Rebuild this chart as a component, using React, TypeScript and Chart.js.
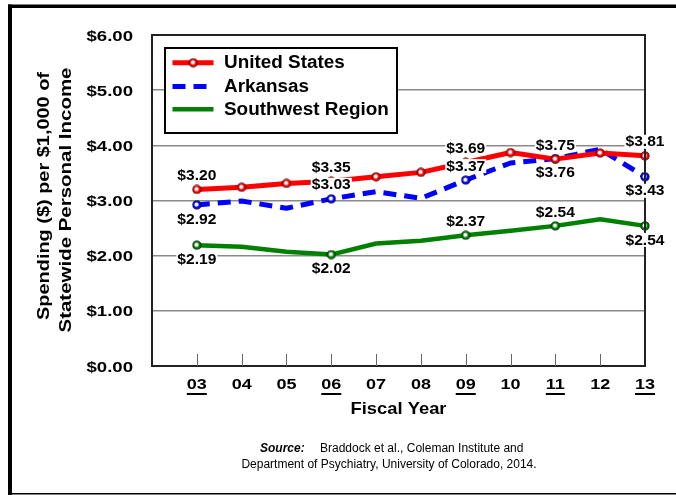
import React, { useEffect, useRef } from 'react';
import { Chart, registerables } from 'chart.js';

Chart.register(...registerables);

// ---------- data ----------
const years = [3, 4, 5, 6, 7, 8, 9, 10, 11, 12, 13];
const yearLabels = ['03', '04', '05', '06', '07', '08', '09', '10', '11', '12', '13'];
const underlinedYears = [3, 6, 9, 11, 13];
const yTickValues = [0, 1, 2, 3, 4, 5, 6];

const usValues = [3.2, 3.24, 3.31, 3.35, 3.43, 3.51, 3.69, 3.87, 3.75, 3.86, 3.81];
const arValues = [2.92, 2.99, 2.86, 3.03, 3.16, 3.04, 3.37, 3.68, 3.76, 3.93, 3.43];
const swValues = [2.19, 2.16, 2.07, 2.02, 2.22, 2.27, 2.37, 2.45, 2.54, 2.66, 2.54];

const usLabelPos = ['above', '', '', 'above', '', '', 'above', '', 'above', '', 'above'];
const arLabelPos = ['below', '', '', 'above', '', '', 'above', '', 'below', '', 'below'];
const swLabelPos = ['below', '', '', 'below', '', '', 'above', '', 'above', '', 'below'];

const usMarkers = [1, 1, 1, 1, 1, 1, 1, 1, 1, 1, 1];
const arMarkers = [1, 0, 0, 1, 0, 0, 1, 0, 1, 0, 1];
const swMarkers = [1, 0, 0, 1, 0, 0, 1, 0, 1, 0, 1];

const seriesNames = ['United States', 'Arkansas', 'Southwest Region'];

const yTitleLines = ['Spending ($) per $1,000 of', 'Statewide Personal Income'];
const xTitle = 'Fiscal Year';
const sourceLabel = 'Source:';
const sourceLine1 = 'Braddock et al., Coleman Institute and';
const sourceLine2 = 'Department of Psychiatry, University of Colorado, 2014.';

// ---------- styles ----------
const FONT = "'Liberation Sans', Arial, Helvetica, sans-serif";
const RED = '#ff0000';
const BLUE = '#0000ff';
const GREEN = '#008000';
const DASH = [13, 8];

function makeMarker(color: string, dark: string): HTMLCanvasElement {
  const c = document.createElement('canvas');
  c.width = 10;
  c.height = 10;
  const g = c.getContext('2d')!;
  const grad = g.createRadialGradient(4.3, 4.3, 0, 5, 5, 4.5);
  grad.addColorStop(0, '#ffffff');
  grad.addColorStop(0.3, '#ffffff');
  grad.addColorStop(0.6, color);
  grad.addColorStop(1, color);
  g.beginPath();
  g.arc(5, 5, 4.1, 0, Math.PI * 2);
  g.fillStyle = grad;
  g.fill();
  g.lineWidth = 0.9;
  g.strokeStyle = dark;
  g.stroke();
  return c;
}

function stretchText(
  ctx: CanvasRenderingContext2D,
  text: string,
  x: number,
  y: number,
  font: string,
  sx: number,
  align: CanvasTextAlign
) {
  ctx.save();
  ctx.font = font;
  ctx.textAlign = align;
  ctx.textBaseline = 'middle';
  ctx.translate(x, y);
  ctx.scale(sx, 1);
  ctx.fillText(text, 0, 0);
  ctx.restore();
}

export default function App() {
  const ref = useRef<HTMLCanvasElement | null>(null);

  useEffect(() => {
    const canvas = ref.current;
    if (!canvas) return;
    const usMk = makeMarker(RED, '#500000');
    const arMk = makeMarker(BLUE, '#000040');
    const swMk = makeMarker(GREEN, '#002000');

    const labelPositions = [usLabelPos, arLabelPos, swLabelPos];

    const decor = {
      id: 'decor',
      afterDraw(chart: any) {
        const ctx: CanvasRenderingContext2D = chart.ctx;
        const a = chart.chartArea;
        const xs = chart.scales.x;
        const ys = chart.scales.y;
        ctx.save();

        // top & right plot border
        ctx.strokeStyle = '#222';
        ctx.lineWidth = 2;
        ctx.beginPath();
        ctx.moveTo(a.left - 1, a.top);
        ctx.lineTo(a.right, a.top);
        ctx.lineTo(a.right, a.bottom + 1);
        ctx.stroke();

        // inward x ticks
        ctx.strokeStyle = '#666';
        ctx.lineWidth = 1;
        years.forEach((yr) => {
          const px = Math.round(xs.getPixelForValue(yr)) + 0.5;
          if (px < a.right - 2) {
            ctx.beginPath();
            ctx.moveTo(px, a.bottom - 12);
            ctx.lineTo(px, a.bottom);
            ctx.stroke();
          }
        });

        ctx.fillStyle = '#000';
        // y tick labels
        const tickFont = `bold 15px ${FONT}`;
        yTickValues.forEach((v) => {
          const py = ys.getPixelForValue(v);
          stretchText(ctx, '$' + v.toFixed(2), a.left - 19, py + 1.5, tickFont, 1.24, 'right');
        });
        // x tick labels + underlines
        years.forEach((yr, i) => {
          const px = xs.getPixelForValue(yr);
          stretchText(ctx, yearLabels[i], px, 385, tickFont, 1.2, 'center');
          if (underlinedYears.includes(yr)) {
            ctx.font = tickFont;
            const w = ctx.measureText(yearLabels[i]).width * 1.2;
            ctx.fillRect(px - w / 2, 393, w, 2);
          }
        });

        // axis titles
        ctx.font = `bold 17px ${FONT}`;
        const fw = ctx.measureText(xTitle).width;
        stretchText(ctx, xTitle, (a.left + a.right) / 2, 409, `bold 17px ${FONT}`, 96 / fw, 'center');

        const yTargets = [248, 265];
        const yCenters = [[44, 196], [66, 200]];
        yTitleLines.forEach((t, i) => {
          ctx.font = `bold 17px ${FONT}`;
          const w = ctx.measureText(t).width;
          ctx.save();
          ctx.translate(yCenters[i][0], yCenters[i][1]);
          ctx.rotate(-Math.PI / 2);
          stretchText(ctx, t, 0, 0, `bold 17px ${FONT}`, yTargets[i] / w, 'center');
          ctx.restore();
        });

        // legend
        ctx.fillStyle = '#fff';
        ctx.fillRect(165, 48, 232, 85);
        ctx.strokeStyle = '#000';
        ctx.lineWidth = 2;
        ctx.strokeRect(165, 48, 232, 85);
        const rows = [62.7, 86.5, 109.3];
        const colors = [RED, BLUE, GREEN];
        const widths = [5, 5, 4.5];
        rows.forEach((ry, i) => {
          ctx.save();
          ctx.strokeStyle = colors[i];
          ctx.lineWidth = widths[i];
          ctx.setLineDash(i === 1 ? DASH : []);
          ctx.beginPath();
          ctx.moveTo(172.5, ry);
          ctx.lineTo(213.5, ry);
          ctx.stroke();
          ctx.restore();
          if (i === 0) ctx.drawImage(usMk, 193.3 - 5, ry - 5);
          ctx.fillStyle = '#000';
          stretchText(ctx, seriesNames[i], 224, ry + 0.5, `bold 18px ${FONT}`, 1.05, 'left');
        });

        // data labels
        const lblFont = `bold 15px ${FONT}`;
        chart.data.datasets.forEach((ds: any, di: number) => {
          const meta = chart.getDatasetMeta(di);
          const pos = labelPositions[di];
          ds.data.forEach((d: any, i: number) => {
            if (!pos[i]) return;
            const el = meta.data[i];
            const txt = '$' + d.y.toFixed(2);
            const cy = el.y + (pos[i] === 'above' ? -14 : 14);
            ctx.font = lblFont;
            const w = ctx.measureText(txt).width * 1.04;
            ctx.fillStyle = '#fff';
            ctx.fillRect(el.x - w / 2 - 1, cy - 7, w + 2, 14);
            ctx.fillStyle = '#000';
            stretchText(ctx, txt, el.x, cy + 0.5, lblFont, 1.04, 'center');
          });
        });

        // source
        ctx.fillStyle = '#000';
        ctx.textBaseline = 'middle';
        ctx.textAlign = 'left';
        ctx.font = `italic bold 12px ${FONT}`;
        ctx.fillText(sourceLabel, 260, 449);
        ctx.font = `12px ${FONT}`;
        ctx.fillText(sourceLine1, 320, 449, 212);
        ctx.textAlign = 'center';
        ctx.fillText(sourceLine2, 389, 465, 308);

        // outer frame
        ctx.fillStyle = '#000';
        ctx.fillRect(8, 4.5, 668, 3.5);
        ctx.fillRect(8, 4.5, 4, 491);
        ctx.fillRect(8, 493, 668, 1.5);

        ctx.restore();
      },
    };

    const mk = (vals: number[]) => vals.map((v, i) => ({ x: years[i], y: v }));

    const chart = new Chart(canvas, {
      type: 'line',
      data: {
        datasets: [
          {
            label: seriesNames[0],
            data: mk(usValues),
            borderColor: RED,
            borderWidth: 5,
            pointStyle: usMk as any,
            pointRadius: usMarkers.map((m) => (m ? 4 : 0)),
            clip: false as any,
          },
          {
            label: seriesNames[1],
            data: mk(arValues),
            borderColor: BLUE,
            borderWidth: 5,
            borderDash: DASH,
            pointStyle: arMk as any,
            pointRadius: arMarkers.map((m) => (m ? 4 : 0)),
            clip: false as any,
          },
          {
            label: seriesNames[2],
            data: mk(swValues),
            borderColor: GREEN,
            borderWidth: 4.5,
            pointStyle: swMk as any,
            pointRadius: swMarkers.map((m) => (m ? 4 : 0)),
            clip: false as any,
          },
        ],
      },
      options: {
        responsive: false,
        maintainAspectRatio: false,
        devicePixelRatio: 1,
        animation: false,
        events: [],
        layout: { padding: { left: 0, right: 31, top: 35, bottom: 0 } },
        elements: { line: { tension: 0, borderJoinStyle: 'round' } },
        plugins: { legend: { display: false }, title: { display: false }, tooltip: { enabled: false } },
        scales: {
          x: {
            type: 'linear',
            min: 2,
            max: 13,
            afterFit: (s: any) => {
              s.height = 129;
            },
            ticks: { display: false, stepSize: 1, autoSkip: false },
            grid: { display: false },
            border: { display: true, color: '#222', width: 2 },
          },
          y: {
            type: 'linear',
            min: 0,
            max: 6,
            afterFit: (s: any) => {
              s.width = 152;
            },
            ticks: { display: false, stepSize: 1 },
            grid: { color: '#8a8a8a', lineWidth: 1.5, drawTicks: false },
            border: { display: true, color: '#222', width: 2 },
          },
        },
      } as any,
      plugins: [decor],
    });

    return () => chart.destroy();
  }, []);

  return (
    <div style={{ position: 'absolute', left: 0, top: 0, width: 676, height: 495, background: '#fff' }}>
      <canvas ref={ref} width={676} height={495} style={{ display: 'block' }} />
    </div>
  );
}
